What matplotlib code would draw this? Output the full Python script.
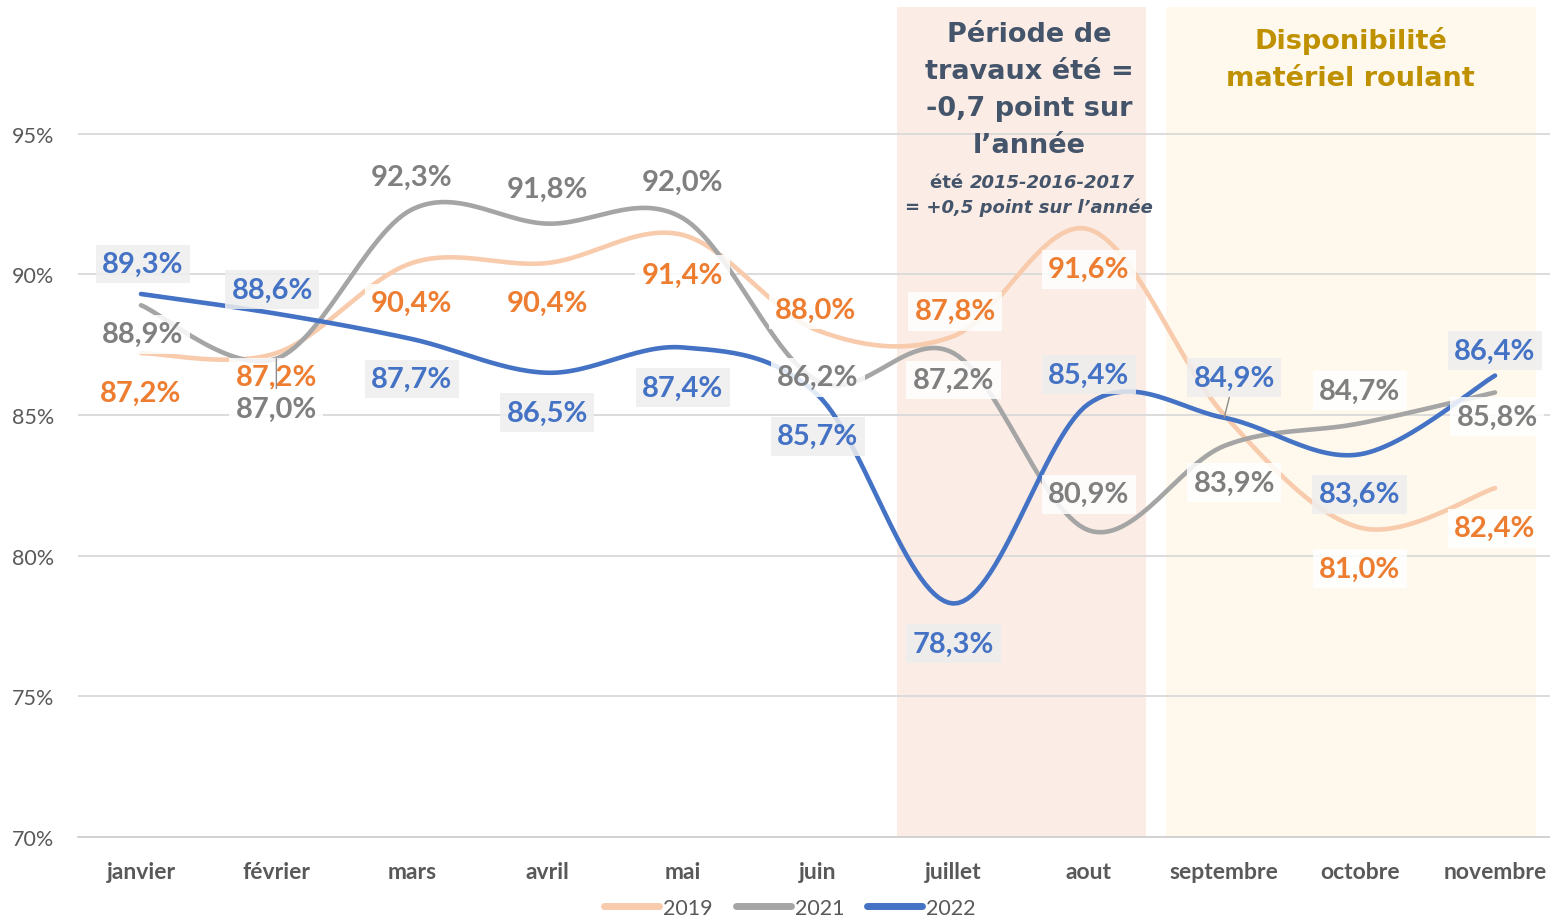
import matplotlib
matplotlib.use("Agg")
import matplotlib.pyplot as plt
from matplotlib.lines import Line2D
import numpy as np

plt.rcParams['font.family'] = ['Lato', 'DejaVu Sans']

mois = ['janvier', 'février', 'mars', 'avril', 'mai', 'juin', 'juillet',
        'aout', 'septembre', 'octobre', 'novembre']

v2019 = [87.2, 87.2, 90.4, 90.4, 91.4, 88.0, 87.8, 91.6, 85.0, 81.0, 82.4]
v2021 = [88.9, 87.0, 92.3, 91.8, 92.0, 86.2, 87.2, 80.9, 83.9, 84.7, 85.8]
v2022 = [89.3, 88.6, 87.7, 86.5, 87.4, 85.7, 78.3, 85.4, 84.9, 83.6, 86.4]

# décalage des étiquettes en pixels (dx, dy), dy positif = vers le haut ; None = pas d'étiquette
off2019 = [(0, -40), (0, -24), (0, -40), (0, -40), (0, -40), (-2, 21), (2, 25),
           (0, -40), None, (0, -41), (0, -40)]
off2021 = [(2, -29), (0, -50), (0, 33), (0, 35), (0, 36), (0, 4), (0, -27),
           (0, 36), (10, -37), (0, 33), (2, -24)]
off2022 = [(2, 30), (-4, 24), (0, -40), (0, -40), (0, -40), (0, -41), (0, -40),
           (0, 29), (10, 40), (0, -40), (0, 25)]


def lisse(x, y, n=30):
    # courbe lissée façon excel (bezier cubique, points de controle catmull-rom)
    x = np.asarray(x, float)
    y = np.asarray(y, float)
    px = np.concatenate([[x[0]], x, [x[-1]]])
    py = np.concatenate([[y[0]], y, [y[-1]]])
    ox, oy = [], []
    t = np.linspace(0, 1, n)
    for i in range(len(x) - 1):
        p0 = np.array([px[i + 1], py[i + 1]])
        p3 = np.array([px[i + 2], py[i + 2]])
        p1 = p0 + (np.array([px[i + 2], py[i + 2]]) - np.array([px[i], py[i]])) / 6
        p2 = p3 - (np.array([px[i + 3], py[i + 3]]) - np.array([px[i + 1], py[i + 1]])) / 6
        b = ((1 - t) ** 3)[:, None] * p0 + (3 * (1 - t) ** 2 * t)[:, None] * p1 \
            + (3 * (1 - t) * t ** 2)[:, None] * p2 + (t ** 3)[:, None] * p3
        ox.extend(b[:, 0])
        oy.extend(b[:, 1])
    return np.array(ox), np.array(oy)


fig = plt.figure(figsize=(15.5, 9.2), dpi=100)
ax = fig.add_axes([78 / 1550, 1 - 838 / 920, 1 - 78 / 1550, 830 / 920])

x = np.arange(len(mois))
ax.set_xlim(-0.465, 10.406)
ax.set_ylim(70, 99.5)

ax.axvspan(5.583, 7.42, color='#fbede5', zorder=0.2, lw=0)
ax.axvspan(7.57, 10.30, color='#fef9ec', zorder=0.2, lw=0)

ax.set_yticks([70, 75, 80, 85, 90, 95])
ax.set_yticklabels(['70%', '75%', '80%', '85%', '90%', '95%'])
ax.set_xticks(x)
ax.set_xticklabels(mois, fontweight='bold', fontsize=16.5)
ax.grid(axis='y', color='#d9d9d9', lw=1.3)
ax.set_axisbelow(True)
for s in ['top', 'right', 'left']:
    ax.spines[s].set_visible(False)
ax.spines['bottom'].set_color('#d0d0d0')
ax.spines['bottom'].set_linewidth(1.3)
ax.tick_params(axis='both', length=0, colors='#595959')
ax.tick_params(axis='y', pad=17, labelsize=15.5)
ax.tick_params(axis='x', pad=17)

series = [
    (v2019, off2019, '#f8cbad', '#ed7d31', 'white', '2019'),
    (v2021, off2021, '#a5a5a5', '#7f7f7f', 'white', '2021'),
    (v2022, off2022, '#4472c4', '#4472c4', '#eeeeee', '2022'),
]

for vals, offs, lc, tc, bc, nom in series:
    sx, sy = lisse(x, vals)
    ax.plot(sx, sy, color=lc, lw=3.3, solid_capstyle='round', zorder=3)

px2pt = 72 / 100
for vals, offs, lc, tc, bc, nom in series:
    for i, v in enumerate(vals):
        if offs[i] is None:
            continue
        dx, dy = offs[i]
        lab = f"{v:.1f}%".replace('.', ',')
        arrow = None
        if (nom == '2021' and i == 1) or (nom == '2022' and i == 8):
            arrow = dict(arrowstyle='-', color='#8c8c8c', lw=1, shrinkA=0, shrinkB=0)
        ax.annotate(lab, (i, v), xytext=(dx * px2pt, dy * px2pt),
                    textcoords='offset points', ha='center', va='center',
                    fontsize=21, fontweight='bold', color=tc, zorder=5,
                    bbox=dict(boxstyle='square,pad=0.22', fc=bc, ec='none', alpha=0.85),
                    arrowprops=arrow)

titre = dict(family='DejaVu Sans', fontweight='bold', ha='center', va='top',
             fontsize=19.5, linespacing=1.54, zorder=6,
             transform=ax.get_xaxis_transform())
ax.text(6.56, 0.983, "Période de\ntravaux été =\n-0,7 point sur\nl’année",
        color='#44546a', **titre)
ax.text(8.935, 0.977, "Disponibilité\nmatériel roulant", color='#bf9000', **titre)

t1 = ax.text(6.12, 0.800, "été ", transform=ax.get_xaxis_transform(),
             ha='right', va='top', family='DejaVu Sans', fontsize=13,
             fontweight='bold', color='#44546a', zorder=6)
ax.annotate("2015-2016-2017", xy=(1, 0), xycoords=t1, ha='left', va='bottom',
            family='DejaVu Sans', fontsize=13, fontweight='bold',
            style='italic', color='#44546a', zorder=6)
ax.text(6.56, 0.770, "= +0,5 point sur l’année", transform=ax.get_xaxis_transform(),
        ha='center', va='top', family='DejaVu Sans', fontsize=13,
        fontweight='bold', style='italic', color='#44546a', zorder=6)

handles = [Line2D([0], [0], color=c, lw=5, solid_capstyle='round')
           for c in ['#f8cbad', '#a5a5a5', '#4472c4']]
fig.legend(handles, ['2019', '2021', '2022'], loc='center',
           bbox_to_anchor=(790 / 1550, 1 - 909 / 920), ncol=3, frameon=False,
           fontsize=15.5, handlelength=2.55, handletextpad=0.2, columnspacing=1.05,
           labelcolor='#595959')

fig.savefig('out.png', dpi=100)
